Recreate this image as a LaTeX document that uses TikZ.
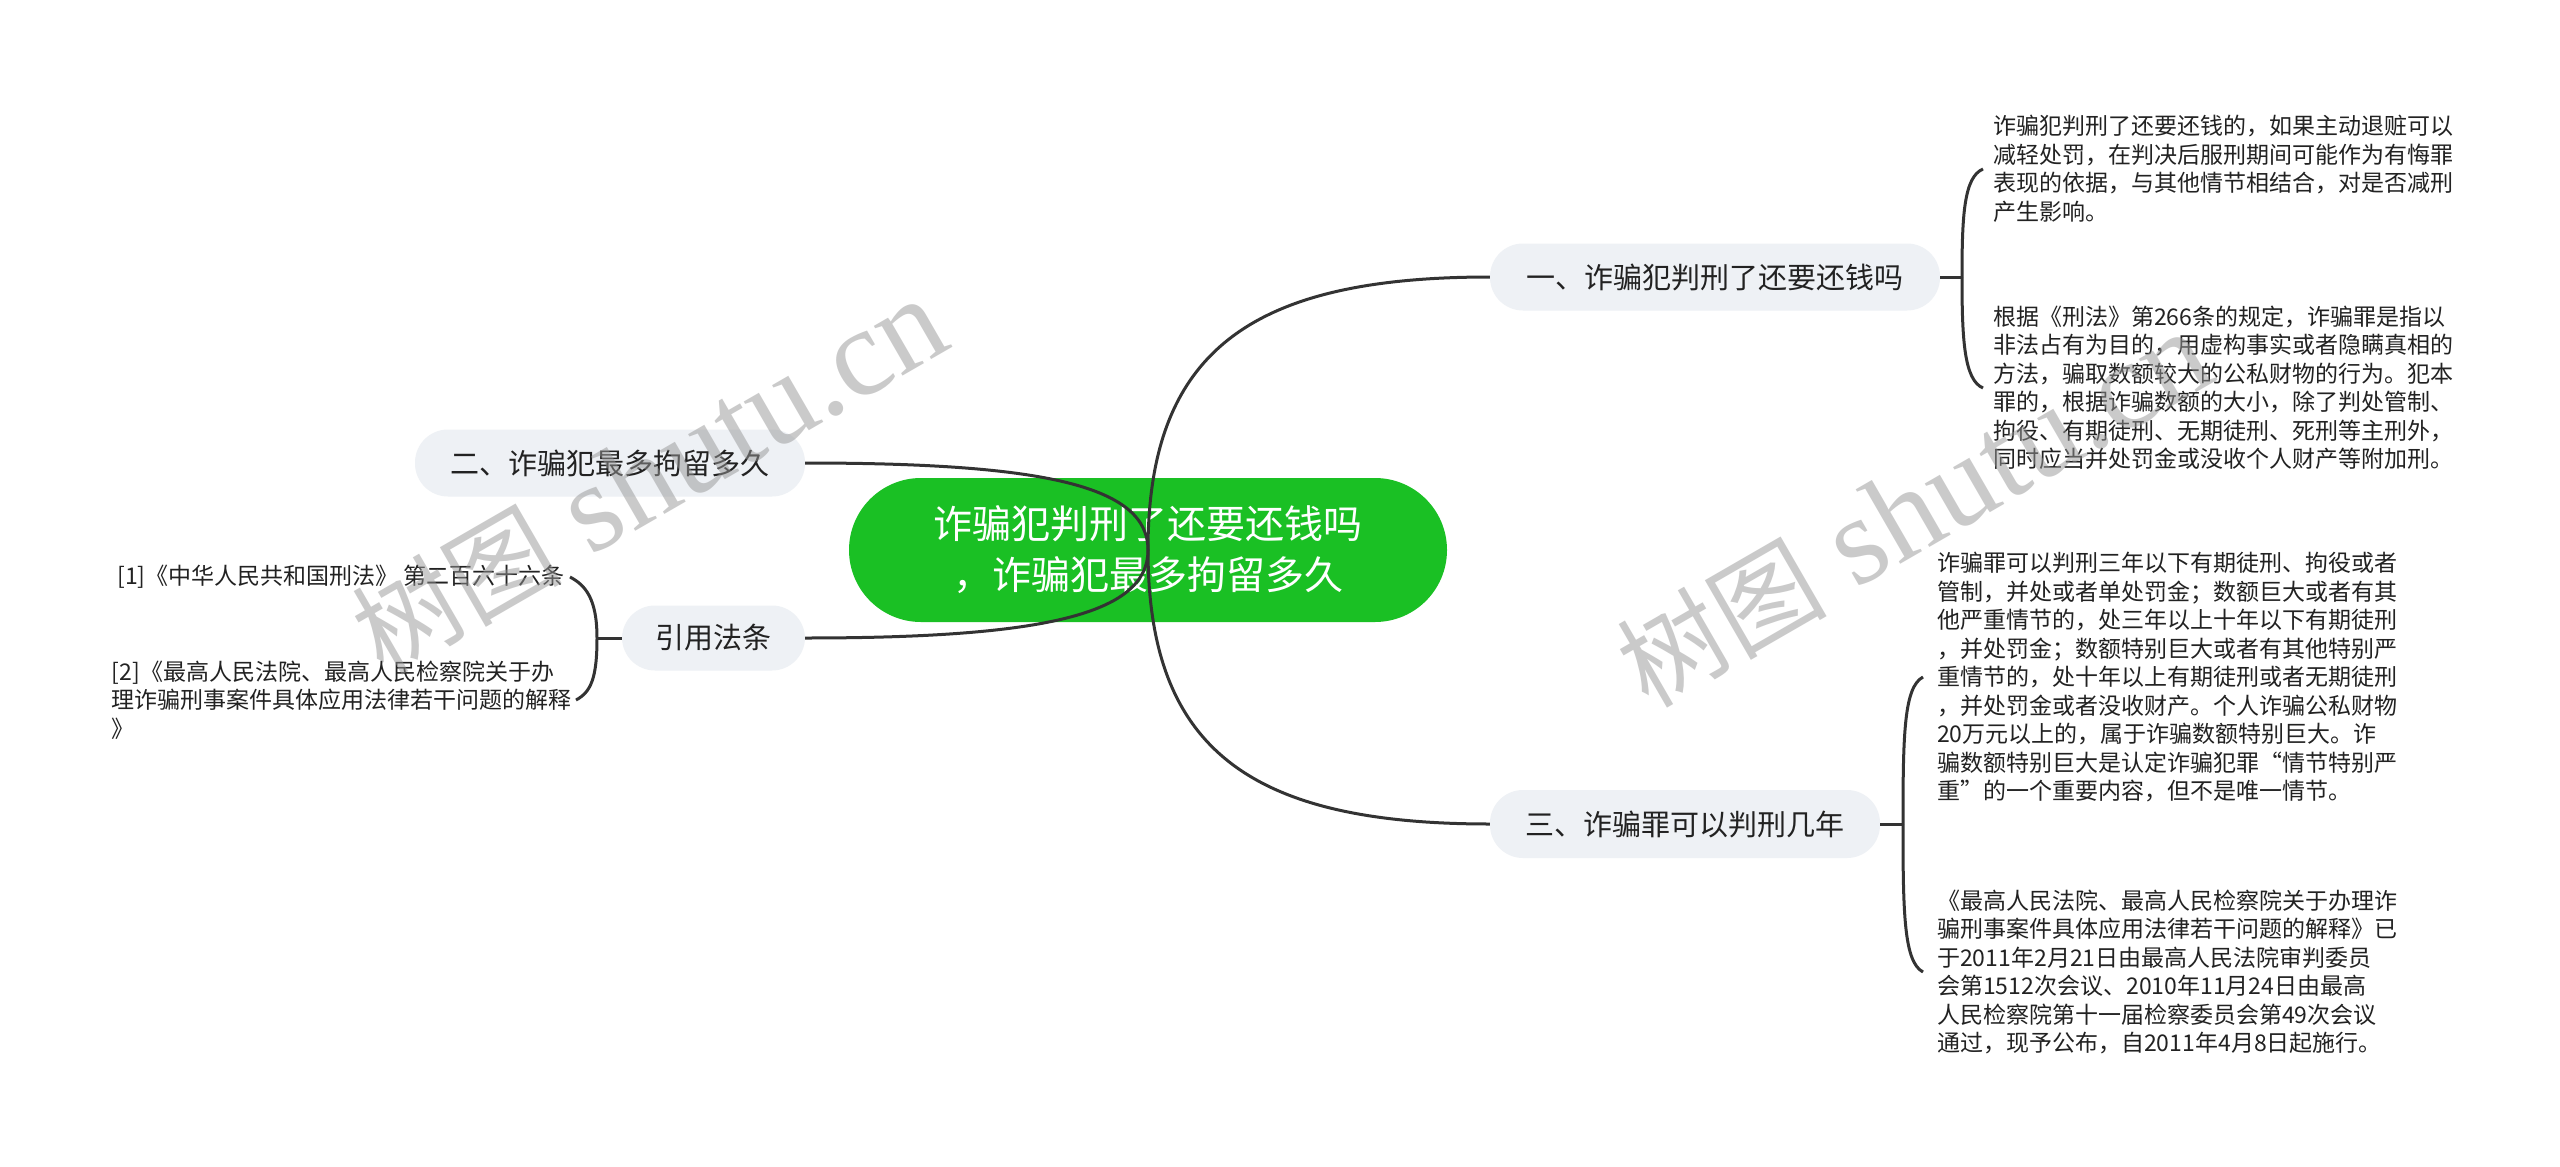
\documentclass[tikz,border=0pt]{standalone}
\usepackage{fontspec}
\setmainfont{Noto Sans CJK SC}
\newfontfamily\wmserif{Liberation Serif}
\definecolor{rootg}{RGB}{26,192,36}
\definecolor{brfill}{RGB}{238,241,245}
\definecolor{lnc}{RGB}{51,51,51}
\definecolor{txt}{RGB}{34,34,34}
\definecolor{wmc}{RGB}{150,150,150}
\begin{document}
\begin{tikzpicture}[x=1pt,y=-1pt,
 conn/.style={draw=lnc,line width=3pt},
 rootnode/.style={fill=rootg,text=white,rounded corners=72pt,minimum width=598pt,minimum height=144pt,align=center,font=\fontsize{39}{51}\selectfont,inner sep=0pt},
 branch/.style={fill=brfill,text=txt,rounded corners=33pt,minimum height=67pt,inner sep=0pt,font=\fontsize{29}{35}\selectfont},
 leaf/.style={text=txt,align=left,inner sep=0pt,font=\fontsize{23}{28.5}\selectfont},
 wm/.style={text=wmc,text opacity=0.5,rotate=30,inner sep=0pt}
]
\useasboundingbox (0,0) rectangle (2560,1167);
\fill[white] (0,0) rectangle (2560,1167);

% nodes
\node[rootnode] (root) at (1148,550) {诈骗犯判刑了还要还钱吗\\，诈骗犯最多拘留多久};
\node[branch,minimum width=450pt] (b1) at (1715,277) {一、诈骗犯判刑了还要还钱吗};
\node[branch,minimum width=390pt] (b2) at (610,463) {二、诈骗犯最多拘留多久};
\node[branch,minimum width=183pt,minimum height=65pt] (b3) at (713.5,638) {引用法条};
\node[branch,minimum width=390pt,minimum height=68pt] (b4) at (1685,824) {三、诈骗罪可以判刑几年};

\node[leaf,anchor=west] (la) at (1993,169) {诈骗犯判刑了还要还钱的，如果主动退赃可以\\减轻处罚，在判决后服刑期间可能作为有悔罪\\表现的依据，与其他情节相结合，对是否减刑\\产生影响。};
\node[leaf,anchor=west] (lb) at (1993,388) {根据《刑法》第266条的规定，诈骗罪是指以\\非法占有为目的，用虚构事实或者隐瞒真相的\\方法，骗取数额较大的公私财物的行为。犯本\\罪的，根据诈骗数额的大小，除了判处管制、\\拘役、有期徒刑、无期徒刑、死刑等主刑外，\\同时应当并处罚金或没收个人财产等附加刑。};
\node[leaf,anchor=west] (lc) at (1937,677) {诈骗罪可以判刑三年以下有期徒刑、拘役或者\\管制，并处或者单处罚金；数额巨大或者有其\\他严重情节的，处三年以上十年以下有期徒刑\\，并处罚金；数额特别巨大或者有其他特别严\\重情节的，处十年以上有期徒刑或者无期徒刑\\，并处罚金或者没收财产。个人诈骗公私财物\\20万元以上的，属于诈骗数额特别巨大。诈\\骗数额特别巨大是认定诈骗犯罪“情节特别严\\重”的一个重要内容，但不是唯一情节。};
\node[leaf,anchor=west] (ld) at (1937,972) {《最高人民法院、最高人民检察院关于办理诈\\骗刑事案件具体应用法律若干问题的解释》已\\于2011年2月21日由最高人民法院审判委员\\会第1512次会议、2010年11月24日由最高\\人民检察院第十一届检察委员会第49次会议\\通过，现予公布，自2011年4月8日起施行。};
\node[leaf,anchor=east] (le) at (565,577) {[1]《中华人民共和国刑法》 第二百六十六条};
\node[leaf,anchor=east] (lf) at (572,700) {[2]《最高人民法院、最高人民检察院关于办\\理诈骗刑事案件具体应用法律若干问题的解释\\》};

% root connectors
\draw[conn] (root.center) .. controls +(0,-199) and +(-239,0) .. (b1.west);
\draw[conn] (root.center) .. controls +(0,200) and +(-239,0) .. (b4.west);
\draw[conn] (root.center) .. controls +(0,-64) and +(240,0) .. (b2.east);
\draw[conn] (root.center) .. controls +(0,64) and +(240,0) .. (b3.east);

% brackets
\coordinate (s1) at (1962,277);
\coordinate (s4) at (1903,824);
\coordinate (s3) at (597,638);
\draw[conn] (b1.east) -- (s1);
\draw[conn] (s1) .. controls +(0,-62) and +(-19,8) .. ([xshift=-10pt]la.west);
\draw[conn] (s1) .. controls +(0,62) and +(-19,-8) .. ([xshift=-10pt]lb.west);
\draw[conn] (b4.east) -- (s4);
\draw[conn] (s4) .. controls +(0,-90) and +(-19,10) .. ([xshift=-14pt]lc.west);
\draw[conn] (s4) .. controls +(0,90) and +(-19,-10) .. ([xshift=-14pt]ld.west);
\draw[conn] (b3.west) -- (s3);
\draw[conn] (s3) .. controls +(0,-40) and +(15,8) .. ([xshift=5pt]le.east);
\draw[conn] (s3) .. controls +(0,40) and +(15,-8) .. ([xshift=4pt]lf.east);

% watermarks
\node[wm] (wm1) at (649,477) {{\fontsize{105}{105}\selectfont 树图}\hspace{30pt}{\wmserif\fontsize{125}{125}\selectfont shutu.cn}};
\node[wm] (wm2) at (1914,510) {{\fontsize{105}{105}\selectfont 树图}\hspace{30pt}{\wmserif\fontsize{125}{125}\selectfont shutu.cn}};
\end{tikzpicture}
\end{document}
